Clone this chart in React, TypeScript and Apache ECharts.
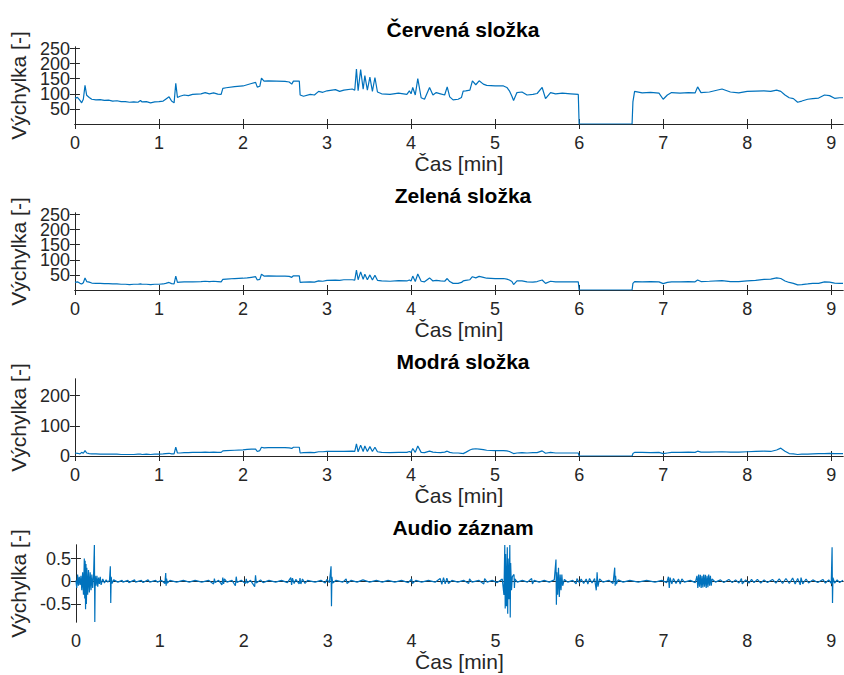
import React, { useEffect, useRef } from "react";
import * as echarts from "echarts";

// ---- data ----
const panelTitles = ["Červená složka", "Zelená složka", "Modrá složka", "Audio záznam"];
const xTickValues = [0, 1, 2, 3, 4, 5, 6, 7, 8, 9];
const yTicksRG = [50, 100, 150, 200, 250];
const yTicksB = [0, 100, 200];
const yTicksAudio = [-0.5, 0, 0.5];

const rgbTime = [
  0.0, 0.03, 0.06, 0.08, 0.1, 0.12, 0.14, 0.17, 0.2, 0.25, 0.3, 0.35, 0.4, 0.45, 0.5, 0.55, 0.6, 0.65, 0.7, 0.75,
  0.78, 0.8, 0.85, 0.9, 0.95, 1.0, 1.05, 1.08, 1.12, 1.15, 1.18, 1.2, 1.22, 1.25, 1.3, 1.35, 1.4, 1.5, 1.55, 1.6,
  1.65, 1.7, 1.74, 1.76, 1.8, 1.9, 2.0, 2.05, 2.1, 2.15, 2.17, 2.2, 2.22, 2.25, 2.3, 2.4, 2.5, 2.55, 2.58, 2.6,
  2.67, 2.68, 2.72, 2.8, 2.85, 2.9, 2.95, 3.0, 3.1, 3.15, 3.2, 3.3, 3.33, 3.35, 3.37, 3.4, 3.43, 3.45, 3.48, 3.51,
  3.54, 3.57, 3.6, 3.65, 3.75, 3.85, 3.95, 3.98, 4.0, 4.02, 4.05, 4.08, 4.12, 4.16, 4.22, 4.26, 4.3, 4.35, 4.4, 4.43,
  4.46, 4.5, 4.56, 4.6, 4.62, 4.65, 4.7, 4.73, 4.77, 4.81, 4.86, 4.9, 5.0, 5.1, 5.14, 5.17, 5.2, 5.22, 5.26, 5.32,
  5.38, 5.45, 5.5, 5.56, 5.6, 5.66, 5.72, 5.8, 5.9, 5.99, 6.0, 6.3, 6.63, 6.64, 6.66, 6.75, 6.85, 6.95, 7.0, 7.05,
  7.1, 7.2, 7.3, 7.38, 7.41, 7.45, 7.55, 7.7, 7.8, 7.9, 8.0, 8.1, 8.2, 8.28, 8.35, 8.4, 8.45, 8.5, 8.55, 8.6,
  8.65, 8.72, 8.78, 8.85, 8.92, 8.98, 9.04, 9.1, 9.14,
];
const red = [
  85, 88, 78, 70, 82, 128, 95, 88, 82, 80, 81, 78, 79, 76, 77, 74, 74, 72, 73, 72,
  78, 73, 74, 70, 73, 74, 76, 82, 90, 76, 70, 135, 88, 92, 96, 94, 98, 100, 104, 100,
  103, 99, 98, 118, 120, 124, 126, 130, 134, 138, 122, 125, 152, 142, 143, 142, 141, 139, 132, 142,
  142, 96, 92, 98, 96, 108, 105, 110, 114, 108, 112, 116, 112, 182, 110, 180, 115, 160, 112, 155,
  108, 154, 106, 100, 98, 102, 98, 110, 100, 121, 96, 150, 87, 82, 121, 96, 104, 100, 96, 123,
  90, 80, 82, 88, 109, 110, 112, 143, 130, 143, 132, 128, 126, 126, 121, 110, 92, 78, 104, 106,
  96, 98, 101, 121, 84, 104, 100, 102, 100, 98, 0, 0, 0, 73, 108, 103, 105, 102, 82, 96,
  104, 102, 104, 103, 123, 104, 106, 116, 106, 103, 108, 109, 110, 108, 112, 108, 96, 87, 84, 72,
  76, 82, 84, 86, 96, 94, 85, 87, 87,
];
const green = [
  25, 27, 22, 20, 24, 40, 28, 26, 23, 22, 22, 21, 21, 20, 20, 19, 19, 18, 19, 19,
  20, 19, 19, 18, 19, 19, 20, 22, 25, 21, 20, 46, 25, 26, 27, 27, 27, 28, 29, 28,
  29, 28, 27, 35, 36, 38, 39, 40, 42, 44, 33, 35, 52, 46, 47, 46, 46, 45, 42, 47,
  47, 25, 26, 27, 26, 30, 29, 32, 33, 32, 34, 34, 33, 66, 34, 60, 35, 52, 34, 50,
  33, 49, 32, 30, 29, 31, 30, 33, 30, 46, 28, 53, 29, 27, 40, 30, 32, 30, 29, 38,
  28, 22, 22, 25, 30, 32, 34, 44, 40, 45, 42, 39, 38, 38, 36, 33, 28, 18, 30, 30,
  27, 26, 28, 33, 22, 29, 27, 27, 27, 27, 0, 0, 0, 22, 28, 27, 28, 27, 21, 25,
  27, 27, 28, 27, 33, 28, 29, 31, 28, 28, 30, 32, 35, 36, 40, 38, 30, 25, 22, 17,
  18, 20, 22, 22, 27, 26, 23, 22, 22,
];
const blue = [
  10, 9, 7, 12, 9, 18, 10, 8, 7, 7, 6, 6, 6, 6, 6, 5, 5, 5, 5, 6,
  6, 5, 6, 5, 6, 6, 7, 8, 9, 7, 7, 29, 10, 10, 11, 11, 12, 12, 13, 12,
  13, 12, 12, 17, 18, 19, 20, 22, 23, 23, 15, 18, 29, 27, 28, 28, 28, 27, 25, 29,
  29, 10, 11, 12, 11, 14, 14, 15, 15, 15, 15, 16, 15, 40, 14, 36, 15, 33, 15, 31,
  15, 29, 14, 12, 11, 12, 12, 15, 12, 25, 12, 33, 12, 11, 16, 13, 12, 11, 13, 16,
  12, 10, 10, 9, 8, 12, 20, 23, 24, 23, 21, 19, 18, 18, 17, 15, 11, 8, 10, 11,
  10, 11, 11, 17, 9, 12, 10, 10, 10, 10, 0, 0, 0, 8, 12, 12, 11, 12, 8, 10,
  12, 12, 13, 12, 16, 13, 13, 14, 13, 13, 14, 15, 16, 15, 20, 26, 16, 8, 7, 5,
  6, 6, 7, 8, 8, 9, 8, 8, 8,
];

const audioTime = [
  0.0, 0.01, 0.02, 0.03, 0.04, 0.05, 0.06, 0.07, 0.08, 0.09, 0.1, 0.105, 0.11, 0.115, 0.12, 0.125, 0.13, 0.14, 0.15, 0.16,
  0.17, 0.18, 0.19, 0.2, 0.21, 0.22, 0.225, 0.23, 0.24, 0.25, 0.26, 0.27, 0.28, 0.29, 0.3, 0.32, 0.34, 0.36, 0.38, 0.4,
  0.41, 0.415, 0.42, 0.43, 0.45, 0.5, 0.55, 0.56, 0.62, 0.63, 0.7, 0.71, 0.78, 0.8, 0.86, 0.88, 0.95, 0.97, 1.02, 1.06,
  1.07, 1.075, 1.08, 1.09, 1.12, 1.2, 1.28, 1.35, 1.42, 1.5, 1.58, 1.64, 1.65, 1.66, 1.7, 1.74, 1.75, 1.76, 1.77, 1.8,
  1.86, 1.9, 1.91, 1.92, 1.97, 2.02, 2.03, 2.04, 2.08, 2.13, 2.14, 2.15, 2.2, 2.23, 2.3, 2.38, 2.45, 2.52, 2.56, 2.57,
  2.58, 2.6, 2.62, 2.66, 2.67, 2.68, 2.7, 2.73, 2.76, 2.85, 2.92, 2.97, 2.99, 3.02, 3.04, 3.045, 3.05, 3.06, 3.1, 3.18,
  3.22, 3.23, 3.28, 3.35, 3.42, 3.5, 3.58, 3.65, 3.72, 3.8, 3.88, 3.96, 4.0, 4.01, 4.05, 4.12, 4.2, 4.28, 4.34, 4.36,
  4.38, 4.4, 4.42, 4.44, 4.48, 4.55, 4.62, 4.68, 4.69, 4.72, 4.8, 4.86, 4.87, 4.9, 4.96, 5.02, 5.08, 5.1, 5.11, 5.115,
  5.12, 5.13, 5.14, 5.145, 5.15, 5.16, 5.17, 5.175, 5.18, 5.19, 5.2, 5.22, 5.225, 5.23, 5.26, 5.32, 5.38, 5.43, 5.44, 5.46,
  5.52, 5.58, 5.64, 5.7, 5.72, 5.725, 5.73, 5.74, 5.75, 5.76, 5.77, 5.78, 5.79, 5.8, 5.82, 5.86, 5.92, 5.96, 5.97, 6.0,
  6.02, 6.05, 6.08, 6.1, 6.12, 6.15, 6.18, 6.2, 6.21, 6.22, 6.24, 6.28, 6.35, 6.4, 6.42, 6.425, 6.43, 6.44, 6.46, 6.52,
  6.6, 6.7, 6.8, 6.9, 6.98, 7.04, 7.06, 7.07, 7.08, 7.1, 7.12, 7.15, 7.18, 7.2, 7.22, 7.25, 7.32, 7.38, 7.4, 7.41,
  7.42, 7.43, 7.44, 7.45, 7.46, 7.47, 7.48, 7.49, 7.5, 7.51, 7.52, 7.53, 7.54, 7.55, 7.56, 7.57, 7.58, 7.62, 7.68, 7.72,
  7.78, 7.82, 7.86, 7.9, 7.93, 7.94, 7.98, 8.02, 8.05, 8.08, 8.12, 8.16, 8.2, 8.24, 8.3, 8.34, 8.38, 8.42, 8.46, 8.5,
  8.54, 8.57, 8.6, 8.63, 8.64, 8.66, 8.7, 8.73, 8.78, 8.84, 8.9, 8.93, 8.97, 9.0, 9.01, 9.015, 9.02, 9.04, 9.07, 9.1,
  9.14,
];
const audio = [
  0.02, -0.15, 0.15, -0.1, 0.1, -0.08, 0.12, -0.2, 0.2, -0.3, 0.5, -0.38, 0.45, -0.62, 0.38, -0.5, 0.3, -0.3, 0.25, -0.25,
  0.2, -0.2, 0.15, -0.15, 0.1, 0.8, -0.9, 0.12, -0.1, 0.12, -0.12, 0.08, -0.06, 0.1, -0.08, 0.05, -0.04, 0.03, -0.02, 0.02,
  0.33, -0.48, 0.1, -0.05, 0.03, -0.02, 0.02, -0.02, 0.02, -0.03, 0.03, -0.02, 0.02, -0.03, 0.03, -0.02, 0.02, -0.02, 0.02, -0.05,
  0.18, -0.1, 0.06, -0.04, 0.02, -0.02, 0.02, -0.02, 0.02, -0.02, 0.02, -0.06, 0.06, -0.03, 0.02, -0.08, 0.08, -0.06, 0.05, -0.02,
  0.02, -0.1, 0.1, -0.03, 0.02, -0.05, 0.05, -0.04, 0.02, -0.12, 0.13, -0.04, 0.03, -0.03, 0.02, -0.02, 0.02, -0.03, 0.08, -0.08,
  0.07, -0.05, 0.04, -0.06, 0.07, -0.06, 0.05, -0.05, 0.02, -0.02, 0.02, -0.04, 0.04, -0.03, 0.33, -0.55, 0.1, -0.04, 0.02, -0.02,
  0.05, -0.05, 0.02, -0.02, 0.03, -0.02, 0.02, -0.02, 0.02, -0.02, 0.02, -0.03, 0.05, -0.05, 0.02, -0.02, 0.02, -0.02, 0.06, -0.07,
  0.08, -0.06, 0.07, -0.05, 0.02, -0.02, 0.02, -0.05, 0.05, -0.02, 0.02, -0.06, 0.06, -0.02, 0.02, -0.03, 0.05, -0.3, 0.8, -0.6,
  0.6, -0.55, 0.75, -0.72, 0.5, -0.4, 0.8, -0.8, 0.4, -0.2, 0.1, 0.15, -0.15, 0.05, -0.02, 0.02, -0.02, 0.06, -0.06, 0.02,
  -0.02, 0.02, -0.02, 0.03, 0.48, -0.52, 0.2, -0.3, 0.3, -0.35, 0.15, -0.2, 0.15, -0.1, 0.04, -0.02, 0.02, -0.06, 0.06, -0.04,
  0.05, -0.05, 0.05, -0.06, 0.06, -0.04, 0.06, -0.2, 0.2, -0.12, 0.05, -0.02, 0.02, -0.05, 0.3, -0.1, 0.12, -0.06, 0.03, -0.02,
  0.02, -0.02, 0.02, -0.02, 0.02, -0.03, 0.1, -0.15, 0.08, -0.06, 0.06, -0.05, 0.05, -0.06, 0.05, -0.02, 0.02, -0.03, 0.12, -0.15,
  0.15, -0.12, 0.14, -0.15, 0.12, -0.14, 0.15, -0.12, 0.14, -0.15, 0.12, -0.13, 0.15, -0.1, 0.12, -0.1, 0.05, -0.02, 0.03, -0.03,
  0.04, -0.03, 0.03, -0.04, 0.06, -0.06, 0.03, -0.04, 0.04, -0.03, 0.04, -0.04, 0.03, -0.03, 0.04, -0.04, 0.05, -0.05, 0.06, -0.05,
  0.07, -0.06, 0.06, -0.08, 0.08, -0.06, 0.05, -0.04, 0.03, -0.03, 0.04, -0.04, 0.03, -0.05, 0.75, -0.48, 0.08, -0.04, 0.03, -0.03,
  0.02,
];

// ---- layout / style ----
const FONT = "'Liberation Sans', Helvetica, Arial, sans-serif";
const AXIS_COLOR = "#262626";
const LINE_COLOR = "#0072BD";
const GRID_LEFT = 73;
const GRID_WIDTH = 770;
const GRID_HEIGHT = 77;
const GRID_TOPS = [47, 213, 379, 545];
const X_MAX = 9.14;

const yRanges = [
  { min: 0, max: 255, ticks: yTicksRG },
  { min: 0, max: 255, ticks: yTicksRG },
  { min: 0, max: 255, ticks: yTicksB },
  { min: -0.9, max: 0.8, ticks: yTicksAudio },
];

function zip(xs: number[], ys: number[]) {
  return xs.map((x, i) => [x, ys[i]]);
}

export default function App() {
  const ref = useRef<HTMLDivElement>(null);
  useEffect(() => {
    if (!ref.current) return;
    const chart = echarts.init(ref.current, undefined, { renderer: "svg" });
    const seriesData = [zip(rgbTime, red), zip(rgbTime, green), zip(rgbTime, blue), zip(audioTime, audio)];

    const grids = GRID_TOPS.map((top) => ({
      left: GRID_LEFT,
      top,
      width: GRID_WIDTH,
      height: GRID_HEIGHT,
      show: false,
    }));

    const labelStyle = { fontFamily: FONT, fontSize: 18, color: AXIS_COLOR };

    const xAxes: any[] = [];
    const yAxes: any[] = [];
    GRID_TOPS.forEach((_, i) => {
      xAxes.push({
        type: "value",
        gridIndex: i,
        position: "bottom",
        min: 0,
        max: X_MAX,
        name: "Čas [min]",
        nameLocation: "middle",
        nameGap: 29,
        nameTextStyle: { fontFamily: FONT, fontSize: 21, color: AXIS_COLOR },
        axisLine: { show: true, lineStyle: { color: AXIS_COLOR, width: 1 } },
        axisTick: { show: true, inside: true, length: 5, customValues: xTickValues, lineStyle: { color: AXIS_COLOR } },
        axisLabel: { show: true, customValues: xTickValues, margin: 10, ...labelStyle },
        splitLine: { show: false },
      });
      xAxes.push({
        type: "value",
        gridIndex: i,
        position: "top",
        min: 0,
        max: X_MAX,
        axisLine: { show: true, lineStyle: { color: AXIS_COLOR, width: 1 } },
        axisTick: { show: true, inside: true, length: 5, customValues: xTickValues, lineStyle: { color: AXIS_COLOR } },
        axisLabel: { show: false },
        splitLine: { show: false },
      });
      const yr = yRanges[i];
      // split tick labels over two left axes (alternating) so that the library keeps all of them
      const labelsA = yr.ticks.filter((_, k) => k % 2 === 0);
      const labelsB = yr.ticks.filter((_, k) => k % 2 === 1);
      const splitLabels = yr.ticks.length > 3;
      yAxes.push({
        type: "value",
        gridIndex: i,
        position: "left",
        min: yr.min,
        max: yr.max,
        name: "Výchylka [-]",
        nameLocation: "middle",
        nameRotate: 90,
        nameGap: 38,
        nameTextStyle: { fontFamily: FONT, fontSize: 21, color: AXIS_COLOR },
        axisLine: { show: true, lineStyle: { color: AXIS_COLOR, width: 1 } },
        axisTick: { show: true, inside: true, length: 5, customValues: yr.ticks, lineStyle: { color: AXIS_COLOR } },
        axisLabel: {
          show: true,
          customValues: splitLabels ? labelsA : yr.ticks,
          showMinLabel: true,
          showMaxLabel: true,
          margin: 5,
          ...labelStyle,
        },
        splitLine: { show: false },
      });
      yAxes.push({
        type: "value",
        gridIndex: i,
        position: "right",
        min: yr.min,
        max: yr.max,
        axisLine: { show: true, lineStyle: { color: AXIS_COLOR, width: 1 } },
        axisTick: { show: true, inside: true, length: 5, customValues: yr.ticks, lineStyle: { color: AXIS_COLOR } },
        axisLabel: { show: false },
        splitLine: { show: false },
      });
      yAxes.push({
        type: "value",
        gridIndex: i,
        position: "left",
        offset: 0,
        min: yr.min,
        max: yr.max,
        show: splitLabels,
        axisLine: { show: false },
        axisTick: { show: false },
        axisLabel: {
          show: splitLabels,
          customValues: splitLabels ? labelsB : [],
          showMinLabel: true,
          showMaxLabel: true,
          margin: 5,
          ...labelStyle,
        },
        splitLine: { show: false },
      });
    });

    chart.setOption({
      animation: false,
      backgroundColor: "#ffffff",
      title: panelTitles.map((t, i) => ({
        text: t,
        left: 463,
        top: GRID_TOPS[i] - 28,
        textAlign: "center",
        padding: 0,
        textStyle: { fontFamily: FONT, fontSize: 21, fontWeight: "bold", color: "#000000" },
      })),
      grid: grids,
      xAxis: xAxes,
      yAxis: yAxes,
      series: seriesData.map((d, i) => ({
        type: "line",
        xAxisIndex: i * 2,
        yAxisIndex: i * 3,
        data: d,
        showSymbol: false,
        symbol: "none",
        lineStyle: { color: LINE_COLOR, width: 1.2 },
        itemStyle: { color: LINE_COLOR },
        silent: true,
      })),
    });
    return () => chart.dispose();
  }, []);
  return (
    <div
      ref={ref}
      style={{ position: "fixed", left: 0, top: 0, width: 844, height: 675, background: "#fff" }}
    />
  );
}
